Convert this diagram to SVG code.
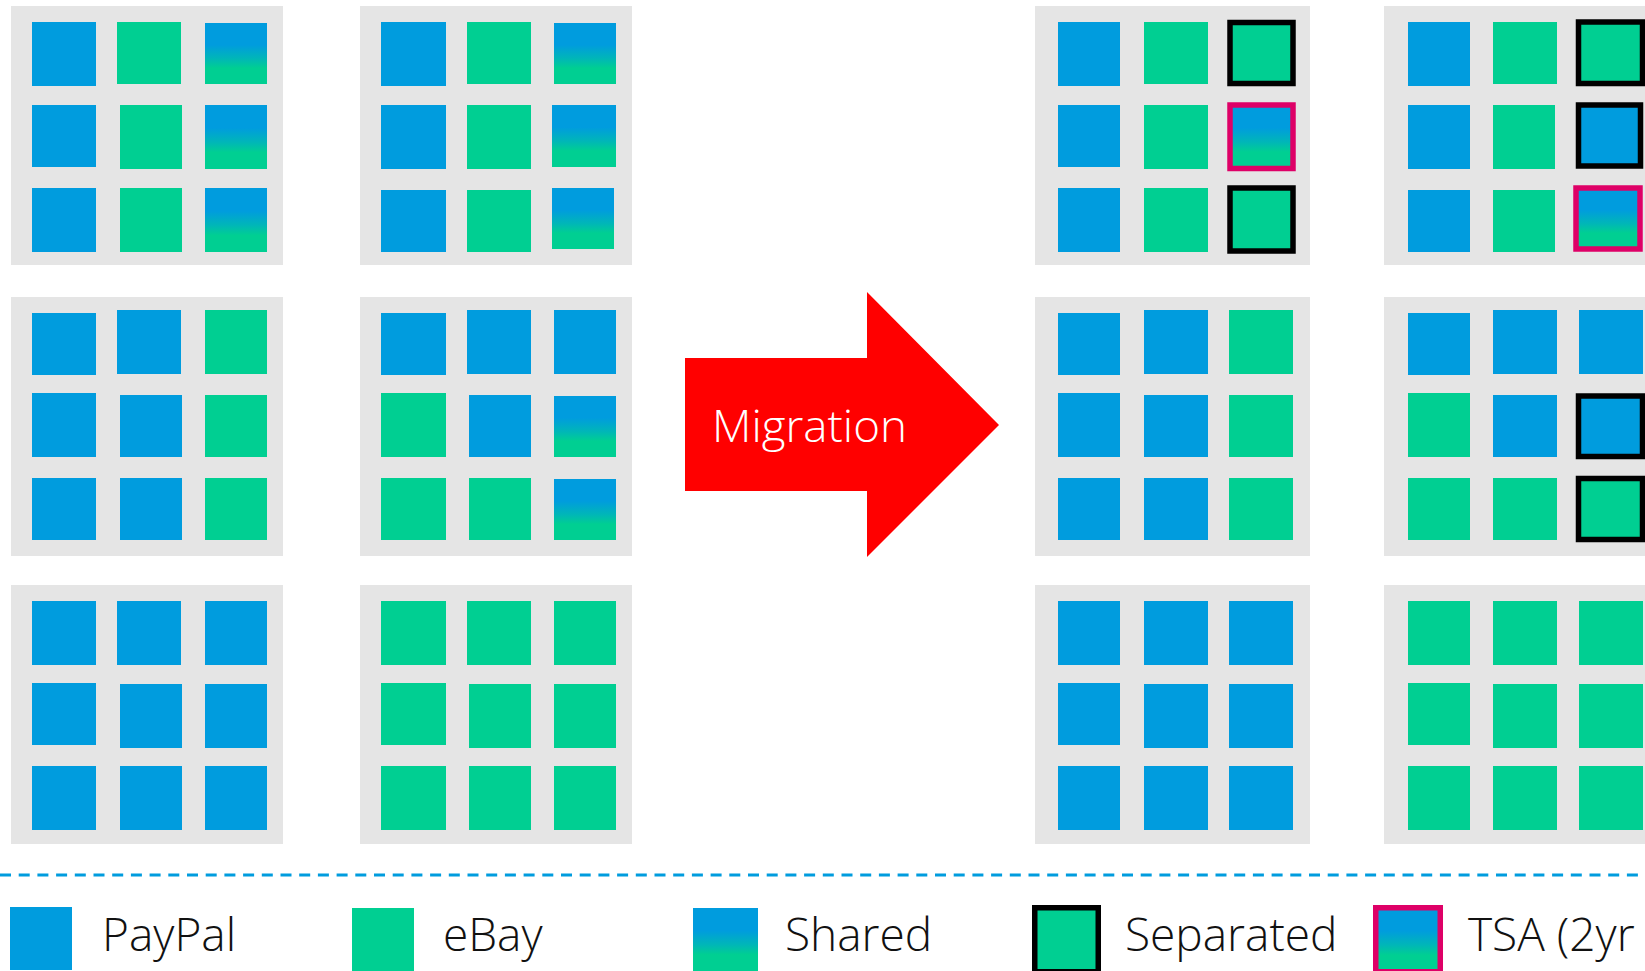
<svg xmlns="http://www.w3.org/2000/svg" width="1645" height="971" viewBox="0 0 1645 971">
<defs>
<linearGradient id="shared" x1="0" y1="0" x2="0" y2="1">
<stop offset="0.36" stop-color="#009cde"/>
<stop offset="0.58" stop-color="#00b6b8"/>
<stop offset="0.74" stop-color="#00cf92"/>
</linearGradient>
<style>
.panel{fill:#e5e5e5}
.pp{fill:#009cde}
.eb{fill:#00cf92}
.sh{fill:url(#shared)}
.sep{stroke:#000;stroke-width:5.5}
.tsa{stroke:#de0067;stroke-width:5.5}
.lbl{font-family:"Open Sans","Noto Sans","Liberation Sans",sans-serif;font-size:46px;fill:#111;font-weight:300}
.mig{font-family:"Open Sans","Noto Sans","Liberation Sans",sans-serif;font-size:44px;fill:#fff;font-weight:300}
</style>
</defs>
<rect width="1645" height="971" fill="#fff"/>

<!-- Left column, before migration -->
<g id="L1-top">
<rect class="panel" x="11" y="6" width="272" height="259"/>
<rect class="pp" x="32" y="22" width="64" height="64"/>
<rect class="eb" x="117" y="22" width="64" height="62"/>
<rect class="sh" x="205" y="23" width="62" height="61"/>
<rect class="pp" x="32" y="105" width="64" height="62"/>
<rect class="eb" x="120" y="105" width="62" height="64"/>
<rect class="sh" x="205" y="105" width="62" height="64"/>
<rect class="pp" x="32" y="188" width="64" height="64"/>
<rect class="eb" x="120" y="188" width="62" height="64"/>
<rect class="sh" x="205" y="188" width="62" height="64"/>
</g>
<g id="L2-top">
<rect class="panel" x="360" y="6" width="272" height="259"/>
<rect class="pp" x="381" y="22" width="65" height="64"/>
<rect class="eb" x="467" y="22" width="64" height="62"/>
<rect class="sh" x="554" y="23" width="62" height="61"/>
<rect class="pp" x="381" y="105" width="65" height="64"/>
<rect class="eb" x="467" y="105" width="64" height="64"/>
<rect class="sh" x="552" y="105" width="64" height="62"/>
<rect class="pp" x="381" y="190" width="65" height="62"/>
<rect class="eb" x="467" y="190" width="64" height="62"/>
<rect class="sh" x="552" y="188" width="62" height="61"/>
</g>
<g id="L1-mid">
<rect class="panel" x="11" y="297" width="272" height="259"/>
<rect class="pp" x="32" y="313" width="64" height="62"/>
<rect class="pp" x="117" y="310" width="64" height="64"/>
<rect class="eb" x="205" y="310" width="62" height="64"/>
<rect class="pp" x="32" y="393" width="64" height="64"/>
<rect class="pp" x="120" y="395" width="62" height="62"/>
<rect class="eb" x="205" y="395" width="62" height="62"/>
<rect class="pp" x="32" y="478" width="64" height="62"/>
<rect class="pp" x="120" y="478" width="62" height="62"/>
<rect class="eb" x="205" y="478" width="62" height="62"/>
</g>
<g id="L2-mid">
<rect class="panel" x="360" y="297" width="272" height="259"/>
<rect class="pp" x="381" y="313" width="65" height="62"/>
<rect class="pp" x="467" y="310" width="64" height="64"/>
<rect class="pp" x="554" y="310" width="62" height="64"/>
<rect class="eb" x="381" y="393" width="65" height="64"/>
<rect class="pp" x="469" y="395" width="62" height="62"/>
<rect class="sh" x="554" y="396" width="62" height="61"/>
<rect class="eb" x="381" y="478" width="65" height="62"/>
<rect class="eb" x="469" y="478" width="62" height="62"/>
<rect class="sh" x="554" y="479" width="62" height="61"/>
</g>
<g id="L1-bot">
<rect class="panel" x="11" y="585" width="272" height="259"/>
<rect class="pp" x="32" y="601" width="64" height="64"/>
<rect class="pp" x="117" y="601" width="64" height="64"/>
<rect class="pp" x="205" y="601" width="62" height="64"/>
<rect class="pp" x="32" y="683" width="64" height="62"/>
<rect class="pp" x="120" y="684" width="62" height="64"/>
<rect class="pp" x="205" y="684" width="62" height="64"/>
<rect class="pp" x="32" y="766" width="64" height="64"/>
<rect class="pp" x="120" y="766" width="62" height="64"/>
<rect class="pp" x="205" y="766" width="62" height="64"/>
</g>
<g id="L2-bot">
<rect class="panel" x="360" y="585" width="272" height="259"/>
<rect class="eb" x="381" y="601" width="65" height="64"/>
<rect class="eb" x="467" y="601" width="64" height="64"/>
<rect class="eb" x="554" y="601" width="62" height="64"/>
<rect class="eb" x="381" y="683" width="65" height="62"/>
<rect class="eb" x="469" y="684" width="62" height="64"/>
<rect class="eb" x="554" y="684" width="62" height="64"/>
<rect class="eb" x="381" y="766" width="65" height="64"/>
<rect class="eb" x="469" y="766" width="62" height="64"/>
<rect class="eb" x="554" y="766" width="62" height="64"/>
</g>

<!-- Migration arrow -->
<g id="migration">
<polygon points="685,358 867,358 867,292 999,425 867,557 867,491 685,491" fill="#ff0000"/>
<text class="mig" x="712" y="442" textLength="195" lengthAdjust="spacingAndGlyphs">Migration</text>
</g>

<!-- Right column, after migration -->
<g id="R1-top">
<rect class="panel" x="1035" y="6" width="275" height="259"/>
<rect class="pp" x="1058" y="22" width="62" height="64"/>
<rect class="eb" x="1144" y="22" width="64" height="62"/>
<rect class="eb sep" x="1230" y="22.5" width="63" height="61"/>
<rect class="pp" x="1058" y="105" width="62" height="62"/>
<rect class="eb" x="1144" y="105" width="64" height="64"/>
<rect class="sh tsa" x="1230" y="105" width="63" height="63.5"/>
<rect class="pp" x="1058" y="188" width="62" height="64"/>
<rect class="eb" x="1144" y="188" width="64" height="64"/>
<rect class="eb sep" x="1230" y="188" width="63" height="63"/>
</g>
<g id="R2-top">
<rect class="panel" x="1384" y="6" width="275" height="259"/>
<rect class="pp" x="1408" y="22" width="62" height="64"/>
<rect class="eb" x="1493" y="22" width="64" height="62"/>
<rect class="eb sep" x="1578.5" y="22" width="64" height="61.5"/>
<rect class="pp" x="1408" y="105" width="62" height="64"/>
<rect class="eb" x="1493" y="105" width="62" height="64"/>
<rect class="pp sep" x="1578.5" y="105" width="62" height="61"/>
<rect class="pp" x="1408" y="190" width="62" height="62"/>
<rect class="eb" x="1493" y="190" width="62" height="62"/>
<rect class="sh tsa" x="1576" y="188" width="64" height="61"/>
</g>
<g id="R1-mid">
<rect class="panel" x="1035" y="297" width="275" height="259"/>
<rect class="pp" x="1058" y="313" width="62" height="62"/>
<rect class="pp" x="1144" y="310" width="64" height="64"/>
<rect class="eb" x="1229" y="310" width="64" height="64"/>
<rect class="pp" x="1058" y="393" width="62" height="64"/>
<rect class="pp" x="1144" y="395" width="64" height="62"/>
<rect class="eb" x="1229" y="395" width="64" height="62"/>
<rect class="pp" x="1058" y="478" width="62" height="62"/>
<rect class="pp" x="1144" y="478" width="64" height="62"/>
<rect class="eb" x="1229" y="478" width="64" height="62"/>
</g>
<g id="R2-mid">
<rect class="panel" x="1384" y="297" width="275" height="259"/>
<rect class="pp" x="1408" y="313" width="62" height="62"/>
<rect class="pp" x="1493" y="310" width="64" height="64"/>
<rect class="pp" x="1579" y="310" width="64" height="64"/>
<rect class="eb" x="1408" y="393" width="62" height="64"/>
<rect class="pp" x="1493" y="395" width="64" height="62"/>
<rect class="pp sep" x="1578.5" y="396" width="64" height="60.5"/>
<rect class="eb" x="1408" y="478" width="62" height="62"/>
<rect class="eb" x="1493" y="478" width="64" height="62"/>
<rect class="eb sep" x="1578.5" y="478.5" width="64" height="61"/>
</g>
<g id="R1-bot">
<rect class="panel" x="1035" y="585" width="275" height="259"/>
<rect class="pp" x="1058" y="601" width="62" height="64"/>
<rect class="pp" x="1144" y="601" width="64" height="64"/>
<rect class="pp" x="1229" y="601" width="64" height="64"/>
<rect class="pp" x="1058" y="683" width="62" height="62"/>
<rect class="pp" x="1144" y="684" width="64" height="64"/>
<rect class="pp" x="1229" y="684" width="64" height="64"/>
<rect class="pp" x="1058" y="766" width="62" height="64"/>
<rect class="pp" x="1144" y="766" width="64" height="64"/>
<rect class="pp" x="1229" y="766" width="64" height="64"/>
</g>
<g id="R2-bot">
<rect class="panel" x="1384" y="585" width="275" height="259"/>
<rect class="eb" x="1408" y="601" width="62" height="64"/>
<rect class="eb" x="1493" y="601" width="64" height="64"/>
<rect class="eb" x="1579" y="601" width="64" height="64"/>
<rect class="eb" x="1408" y="683" width="62" height="62"/>
<rect class="eb" x="1493" y="684" width="64" height="64"/>
<rect class="eb" x="1579" y="684" width="64" height="64"/>
<rect class="eb" x="1408" y="766" width="62" height="64"/>
<rect class="eb" x="1493" y="766" width="64" height="64"/>
<rect class="eb" x="1579" y="766" width="64" height="64"/>
</g>

<g id="connectors">
<line x1="0" y1="875" x2="1645" y2="875" stroke="#009cde" stroke-width="3" stroke-dasharray="11 7.7"/>
</g>

<!-- Legend -->
<g id="legend-paypal">
<rect class="pp" x="10" y="907" width="62" height="63"/>
<text class="lbl" x="102" y="951">PayPal</text>
</g>
<g id="legend-ebay">
<rect class="eb" x="352" y="908" width="62" height="63"/>
<text class="lbl" x="443" y="951">eBay</text>
</g>
<g id="legend-shared">
<rect class="sh" x="693" y="908" width="65" height="63"/>
<text class="lbl" x="785" y="951">Shared</text>
</g>
<g id="legend-separated">
<rect class="eb sep" x="1034.75" y="907.75" width="63.5" height="64"/>
<text class="lbl" x="1125" y="951">Separated</text>
</g>
<g id="legend-tsa">
<rect class="sh tsa" x="1375.75" y="907.75" width="64.5" height="64"/>
<text class="lbl" x="1468" y="951">TSA (2yr</text>
</g>
</svg>
